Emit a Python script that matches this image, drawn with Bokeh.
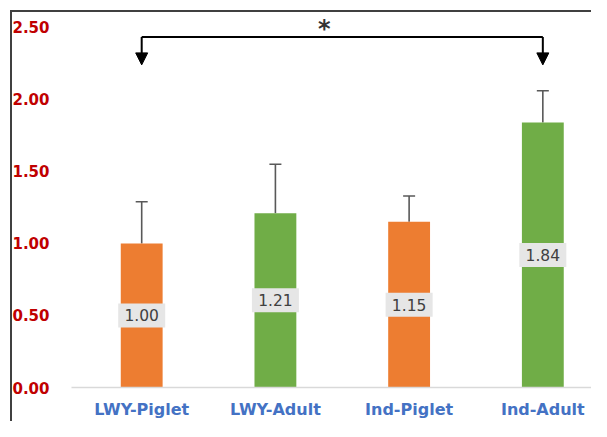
from bokeh.plotting import figure
from bokeh.models import (Range1d, FixedTicker, NumeralTickFormatter, Whisker, TeeHead,
                          Arrow, NormalHead, ColumnDataSource)
from bokeh.core.properties import value
from bokeh.embed import file_html
from bokeh.resources import INLINE

# ---- data ----
categories = ["LWY-Piglet", "LWY-Adult", "Ind-Piglet", "Ind-Adult"]
means = [1.00, 1.21, 1.15, 1.84]
errors = [0.29, 0.34, 0.18, 0.22]
colors = ["#ED7D31", "#70AD47", "#ED7D31", "#70AD47"]
y_ticks = [0.0, 0.5, 1.0, 1.5, 2.0, 2.5]
sig_pair = ("LWY-Piglet", "Ind-Adult")
sig_label = "*"

# ---- style constants ----
BAR_W = 0.313
BRACKET_Y = 2.433
ARROW_TIP_Y = 2.24
STAR_Y = 2.49

xs = list(range(len(categories)))
src = ColumnDataSource(dict(
    x=xs,
    top=means,
    upper=[m + e for m, e in zip(means, errors)],
    mid=[m / 2 for m in means],
    label=[f"{m:.2f}" for m in means],
    color=colors,
))

p = figure(width=591, height=421,
           x_range=Range1d(-0.525, 3.364), y_range=Range1d(0, (388 - 2) / 144.4),
           output_backend="svg", toolbar_location=None,
           min_border_left=71, min_border_top=2, min_border_right=0, min_border_bottom=33)
p.styles = {
    "background-color": "white",
    "background-image": "linear-gradient(#404040,#404040), linear-gradient(#404040,#404040)",
    "background-size": "2px calc(100% - 10px), calc(100% - 10px) 2px",
    "background-position": "10px 10px, 10px 10px",
    "background-repeat": "no-repeat",
}
p.outline_line_color = None
p.xgrid.visible = False
p.ygrid.visible = False
p.background_fill_color = None
p.border_fill_color = None

# bars
p.vbar(x="x", top="top", bottom=0, width=BAR_W, fill_color="color", line_color=None, source=src)

# error bars (upper only)
p.add_layout(Whisker(base="x", lower="top", upper="upper", source=src,
                     line_color="#595959", line_width=1.6,
                     upper_head=TeeHead(size=12, line_color="#595959", line_width=1.6),
                     lower_head=None))

# value labels with box
p.rect(x="x", y="mid", width=47, height=24, width_units="screen", height_units="screen",
       fill_color="#E6E6E6", line_color=None, source=src)
p.text(x="x", y="mid", text="label", text_align="center", text_baseline="middle",
       text_font=value("DejaVu Sans"), text_font_size="15.5px", text_color="#404040", source=src)

# significance bracket
i0 = categories.index(sig_pair[0])
i1 = categories.index(sig_pair[1])
p.line([xs[i0], xs[i1]], [BRACKET_Y, BRACKET_Y], line_color="black", line_width=2)
for i in (i0, i1):
    p.add_layout(Arrow(x_start=xs[i], y_start=BRACKET_Y, x_end=xs[i], y_end=ARROW_TIP_Y,
                       line_color="black", line_width=2,
                       end=NormalHead(size=12, fill_color="black", line_color="black")))
p.text(x=[(xs[i0] + xs[i1]) / 2], y=[STAR_Y], text=[sig_label], x_offset=-18,
       text_align="center", text_baseline="middle", text_font=value("DejaVu Sans"),
       text_font_size="24px", text_font_style="bold", text_color="#333333")

# axes
p.yaxis.ticker = FixedTicker(ticks=y_ticks)
p.yaxis.formatter = NumeralTickFormatter(format="0.00")
p.yaxis.axis_line_color = None
p.yaxis.major_tick_line_color = None
p.yaxis.minor_tick_line_color = None
p.yaxis.major_label_standoff = 16
p.yaxis.major_label_text_font = "DejaVu Sans"
p.yaxis.major_label_text_font_style = "bold"
p.yaxis.major_label_text_font_size = "15px"
p.yaxis.major_label_text_color = "#C00000"

p.xaxis.ticker = FixedTicker(ticks=xs)
p.xaxis.major_label_overrides = {i: c for i, c in zip(xs, categories)}
p.xaxis.axis_line_color = "#D9D9D9"
p.xaxis.axis_line_width = 1.5
p.xaxis.major_tick_line_color = None
p.xaxis.minor_tick_line_color = None
p.xaxis.major_label_standoff = 6
p.xaxis.major_label_text_font = "DejaVu Sans"
p.xaxis.major_label_text_font_style = "bold"
p.xaxis.major_label_text_font_size = "16px"
p.xaxis.major_label_text_color = "#4472C4"

open("out.html", "w").write(file_html(p, INLINE))
